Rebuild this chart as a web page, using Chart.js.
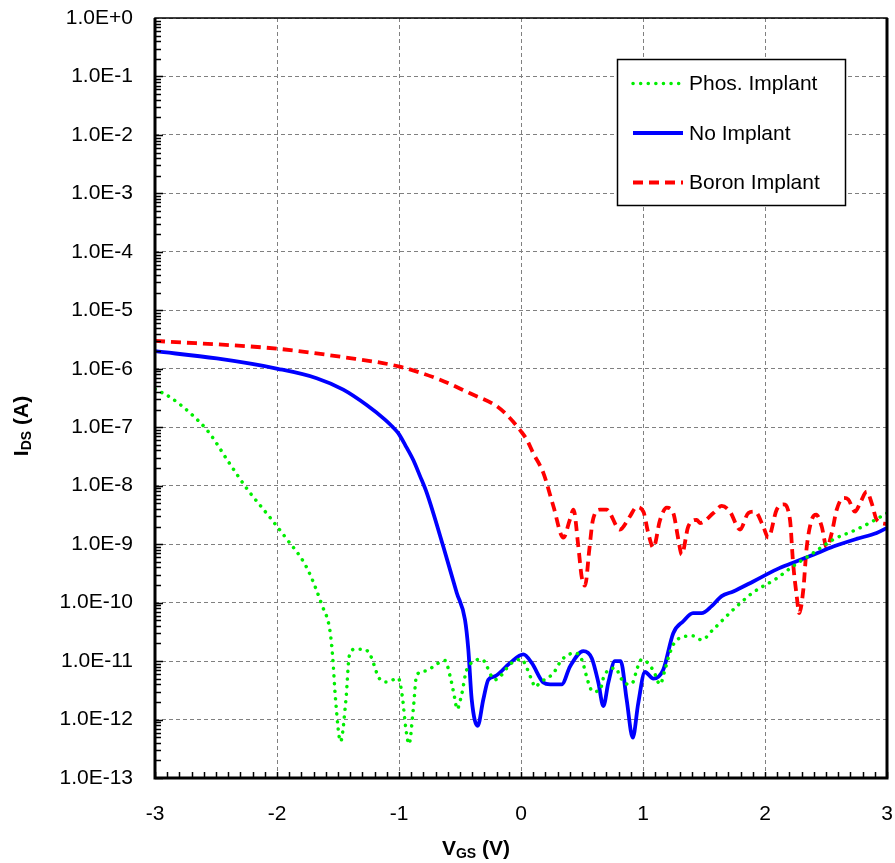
<!DOCTYPE html>
<html>
<head>
<meta charset="utf-8">
<script src="https://cdn.jsdelivr.net/npm/chart.js@4/dist/chart.umd.min.js"></script>
<style>
  html, body { margin: 0; padding: 0; background: #fff; }
  canvas { display: block; }
</style>
</head>
<body>
<canvas id="chart" width="895" height="863"></canvas>
<script>
// values (V_GS in volts, I_DS in amps)
const phosX = [-3.0, -2.87, -2.705, -2.557, -2.40, -2.24, -2.06, -1.93, -1.757, -1.63, -1.566, -1.544, -1.52, -1.479, -1.435, -1.407, -1.36, -1.287, -1.238, -1.16, -1.10, -1.006, -0.973, -0.943, -0.918, -0.883, -0.855, -0.779, -0.691, -0.623, -0.582, -0.541, -0.525, -0.486, -0.445, -0.322, -0.213, -0.076, 0, 0.088, 0.115, 0.156, 0.265, 0.334, 0.443, 0.497, 0.552, 0.588, 0.648, 0.68, 0.779, 0.811, 0.88, 0.916, 0.953, 0.99, 1.085, 1.14, 1.18, 1.22, 1.276, 1.41, 1.48, 1.577, 1.74, 1.90, 2.096, 2.23, 2.396, 2.56, 2.75, 2.888, 3.0];
const phosY = [4.5e-7, 3.2e-7, 1.7e-7, 8.1e-8, 2.6e-8, 8.5e-9, 2.9e-9, 1.3e-9, 4.0e-10, 8.9e-11, 3.3e-11, 1.2e-11, 2.2e-12, 4.2e-13, 2.2e-12, 1.23e-11, 1.6e-11, 1.6e-11, 1.3e-11, 5.0e-12, 4.4e-12, 5.1e-12, 2.5e-12, 6.8e-13, 3.8e-13, 1.5e-12, 5.8e-12, 6.8e-12, 8.9e-12, 1.02e-11, 5.6e-12, 2.2e-12, 1.5e-12, 2.7e-12, 7.1e-12, 1.07e-11, 4.8e-12, 9.3e-12, 1.07e-11, 4.8e-12, 3.6e-12, 4.3e-12, 6.2e-12, 1.05e-11, 1.38e-11, 1.07e-11, 4.3e-12, 3.0e-12, 3.2e-12, 5.5e-12, 7.6e-12, 5.4e-12, 4.0e-12, 4.3e-12, 7.6e-12, 1.07e-11, 6.9e-12, 4.0e-12, 7.1e-12, 1.38e-11, 2.3e-11, 2.7e-11, 2.3e-11, 3.5e-11, 7.6e-11, 1.48e-10, 2.6e-10, 4.2e-10, 7.1e-10, 1.2e-9, 1.78e-9, 2.5e-9, 3.4e-9];

const noX = [-3.0, -2.494, -1.994, -1.675, -1.457, -1.265, -1.115, -1.06, -1.006, -0.95, -0.883, -0.83, -0.773, -0.637, -0.527, -0.459, -0.432, -0.404, -0.355, -0.309, -0.268, -0.213, -0.09, 0.019, 0.088, 0.183, 0.238, 0.334, 0.402, 0.511, 0.58, 0.634, 0.675, 0.716, 0.77, 0.817, 0.866, 0.916, 0.961, 1.016, 1.085, 1.166, 1.248, 1.33, 1.41, 1.48, 1.563, 1.645, 1.74, 1.904, 2.096, 2.23, 2.396, 2.56, 2.75, 2.915, 3.0];
const noY = [2.0e-6, 1.5e-6, 1.0e-6, 6.9e-7, 4.4e-7, 2.4e-7, 1.35e-7, 1.05e-7, 7.9e-8, 5.0e-8, 2.75e-8, 1.5e-8, 7.6e-9, 9.1e-10, 1.48e-10, 5.1e-11, 1.6e-11, 2.2e-12, 7.8e-13, 2.2e-12, 4.8e-12, 5.5e-12, 9.3e-12, 1.3e-11, 9.3e-12, 4.3e-12, 4.0e-12, 4.0e-12, 8.1e-12, 1.48e-11, 1.12e-11, 4.3e-12, 1.7e-12, 4.3e-12, 1.0e-11, 1.0e-11, 2.2e-12, 4.9e-13, 1.9e-12, 6.5e-12, 5.0e-12, 7.1e-12, 3.0e-11, 4.8e-11, 6.6e-11, 6.6e-11, 8.7e-11, 1.29e-10, 1.55e-10, 2.3e-10, 3.7e-10, 4.8e-10, 6.6e-10, 9.1e-10, 1.23e-9, 1.55e-9, 1.9e-9];

const boronX = [-3.0, -1.994, -1.457, -1.006, -0.664, -0.418, -0.2, -0.1, 0, 0.05, 0.1, 0.183, 0.265, 0.347, 0.40, 0.43, 0.47, 0.497, 0.525, 0.56, 0.588, 0.648, 0.70, 0.811, 0.893, 0.948, 1.003, 1.043, 1.085, 1.14, 1.195, 1.248, 1.29, 1.317, 1.371, 1.44, 1.467, 1.577, 1.645, 1.713, 1.795, 1.863, 1.918, 1.986, 2.027, 2.096, 2.15, 2.205, 2.23, 2.26, 2.28, 2.314, 2.34, 2.38, 2.42, 2.465, 2.506, 2.547, 2.588, 2.642, 2.683, 2.738, 2.779, 2.834, 2.875, 2.916, 2.997];
const boronY = [3.0e-6, 2.2e-6, 1.58e-6, 1.1e-6, 6.5e-7, 3.8e-7, 2.3e-7, 1.5e-7, 8.5e-8, 6.0e-8, 3.6e-8, 1.66e-8, 4.5e-9, 1.29e-9, 2.6e-9, 3.9e-9, 9.1e-10, 2.8e-10, 1.95e-10, 8.1e-10, 2.5e-9, 3.9e-9, 3.9e-9, 1.78e-9, 3.0e-9, 4.3e-9, 3.6e-9, 1.55e-9, 8.7e-10, 2.6e-9, 4.2e-9, 3.4e-9, 1.2e-9, 6.6e-10, 2.0e-9, 2.6e-9, 2.3e-9, 3.4e-9, 4.5e-9, 3.6e-9, 1.78e-9, 3.4e-9, 3.6e-9, 2.0e-9, 1.29e-9, 3.9e-9, 4.8e-9, 2.6e-9, 4.8e-10, 1.29e-10, 6.6e-11, 1.66e-10, 8.1e-10, 2.5e-9, 3.2e-9, 2.0e-9, 8.7e-10, 1.55e-9, 3.9e-9, 6.2e-9, 5.8e-9, 3.6e-9, 5.0e-9, 7.9e-9, 5.0e-9, 2.6e-9, 2.2e-9];

const seriesNames = ['Phos. Implant', 'No Implant', 'Boron Implant'];
const yTickValues = [1e-13, 1e-12, 1e-11, 1e-10, 1e-9, 1e-8, 1e-7, 1e-6, 1e-5, 1e-4, 1e-3, 1e-2, 1e-1, 1e0];
const xTickValues = [-3, -2, -1, 0, 1, 2, 3];

const FONT = "'Liberation Sans', Arial, sans-serif";

function toPoints(xs, ys) {
    return xs.map((x, i) => ({x: x, y: ys[i]}));
}

function sciLabel(v) {
    const e = Math.round(Math.log10(v));
    return '1.0E' + (e >= 0 ? '+' : '') + e;
}

// axis box, inner tick marks, axis titles with subscripts and the boxed legend
const decorPlugin = {
    id: 'decor',
    afterDatasetsDraw(chart) {
        const ctx = chart.ctx;
        const a = chart.chartArea;
        const xs = chart.scales.x;
        const ys = chart.scales.y;
        ctx.save();

        // minor ticks inside the plot
        ctx.strokeStyle = '#000';
        ctx.lineWidth = 1.5;
        ctx.beginPath();
        for (let i = -30; i <= 30; i++) {
            const px = Math.round(xs.getPixelForValue(i / 10)) + 0.5;
            ctx.moveTo(px, a.bottom);
            ctx.lineTo(px, a.bottom - 6);
        }
        for (let d = -13; d < 0; d++) {
            for (let m = 1; m <= 9; m++) {
                const py = Math.round(ys.getPixelForValue(m * Math.pow(10, d))) + 0.5;
                ctx.moveTo(a.left, py);
                ctx.lineTo(a.left + (m === 1 ? 8 : 6), py);
            }
        }
        ctx.stroke();

        // box
        ctx.lineWidth = 1.5;
        ctx.strokeRect(a.left, a.top, a.right - a.left, a.bottom - a.top);
        ctx.lineWidth = 3;
        ctx.beginPath();
        ctx.moveTo(a.left, a.top);
        ctx.lineTo(a.left, a.bottom);
        ctx.lineTo(a.right, a.bottom);
        ctx.lineTo(a.right, a.top);
        ctx.stroke();

        // legend
        const lx = 617.5, ly = 59.5, lw = 228, lh = 146;
        ctx.fillStyle = '#fff';
        ctx.fillRect(lx, ly, lw, lh);
        ctx.lineWidth = 1.5;
        ctx.strokeStyle = '#000';
        ctx.strokeRect(lx, ly, lw, lh);
        const rows = [83.5, 133, 182.5];
        chart.data.datasets.forEach((ds, i) => {
            ctx.save();
            ctx.strokeStyle = ds.borderColor;
            ctx.lineWidth = ds.borderWidth;
            ctx.lineCap = ds.borderCapStyle || 'butt';
            ctx.setLineDash(ds.borderDash || []);
            ctx.beginPath();
            ctx.moveTo(633, rows[i]);
            ctx.lineTo(683, rows[i]);
            ctx.stroke();
            ctx.restore();
            ctx.fillStyle = '#000';
            ctx.font = '21px ' + FONT;
            ctx.textBaseline = 'middle';
            ctx.textAlign = 'left';
            ctx.fillText(ds.label, 689, rows[i] + 1);
        });

        // axis titles
        drawSubTitle(ctx, 'V', 'GS', ' (V)', 476, 849, 0);
        drawSubTitle(ctx, 'I', 'DS', ' (A)', 22, 426, -Math.PI / 2);

        ctx.restore();
    }
};

function drawSubTitle(ctx, main, sub, rest, cx, cy, angle) {
    const big = 'bold 21px ' + FONT;
    const small = 'bold 14px ' + FONT;
    ctx.save();
    ctx.translate(cx, cy);
    ctx.rotate(angle);
    ctx.fillStyle = '#000';
    ctx.textBaseline = 'middle';
    ctx.textAlign = 'left';
    ctx.font = big;
    const w1 = ctx.measureText(main).width;
    const w3 = ctx.measureText(rest).width;
    ctx.font = small;
    const w2 = ctx.measureText(sub).width;
    let x = -(w1 + w2 + w3) / 2;
    ctx.font = big;
    ctx.fillText(main, x, 0);
    x += w1;
    ctx.font = small;
    ctx.fillText(sub, x, 5);
    x += w2;
    ctx.font = big;
    ctx.fillText(rest, x, 0);
    ctx.restore();
}

const ctx = document.getElementById('chart').getContext('2d');
new Chart(ctx, {
    type: 'line',
    data: {
        datasets: [
            {
                label: seriesNames[0],
                data: toPoints(phosX, phosY),
                borderColor: '#00ee00',
                borderWidth: 3.5,
                borderDash: [0.1, 7.5],
                borderCapStyle: 'round',
                pointRadius: 0,
                cubicInterpolationMode: 'monotone',
                fill: false
            },
            {
                label: seriesNames[1],
                data: toPoints(noX, noY),
                borderColor: '#0000ff',
                borderWidth: 3.8,
                pointRadius: 0,
                cubicInterpolationMode: 'monotone',
                fill: false
            },
            {
                label: seriesNames[2],
                data: toPoints(boronX, boronY),
                borderColor: '#ff0000',
                borderWidth: 3.8,
                borderDash: [10, 6],
                pointRadius: 0,
                cubicInterpolationMode: 'monotone',
                fill: false
            }
        ]
    },
    options: {
        responsive: false,
        animation: false,
        layout: {padding: {top: 18, right: 8, left: 0, bottom: 0}},
        plugins: {
            legend: {display: false},
            tooltip: {enabled: false}
        },
        scales: {
            x: {
                type: 'linear',
                min: -3,
                max: 3,
                afterBuildTicks: scale => { scale.ticks = xTickValues.map(v => ({value: v})); },
                afterFit: scale => {
                    scale.height = 85;
                    scale.paddingLeft = 0;
                    scale.paddingRight = 0;
                },
                grid: {color: '#808080', lineWidth: 1, drawTicks: false},
                border: {display: false, dash: [4, 3]},
                ticks: {
                    color: '#000',
                    padding: 24,
                    maxRotation: 0,
                    font: {family: FONT, size: 21}
                }
            },
            y: {
                type: 'logarithmic',
                min: 1e-13,
                max: 1,
                afterBuildTicks: scale => { scale.ticks = yTickValues.map(v => ({value: v})); },
                afterFit: scale => {
                    scale.width = 155;
                    scale.paddingTop = 0;
                    scale.paddingBottom = 0;
                },
                grid: {color: '#808080', lineWidth: 1, drawTicks: false},
                border: {display: false, dash: [4, 3]},
                ticks: {
                    color: '#000',
                    padding: 22,
                    font: {family: FONT, size: 21},
                    callback: v => sciLabel(v)
                }
            }
        }
    },
    plugins: [decorPlugin]
});
</script>
</body>
</html>
